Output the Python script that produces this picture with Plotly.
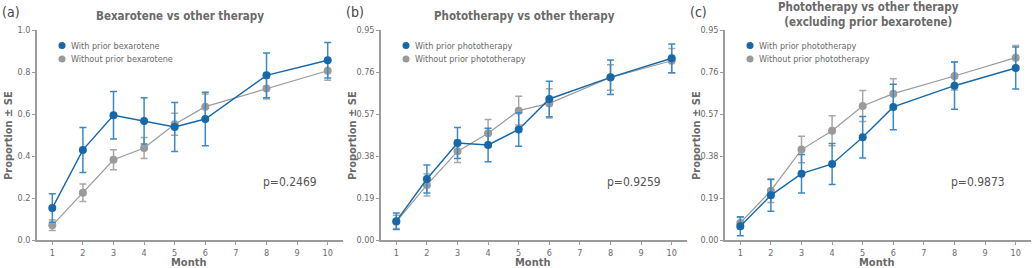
import plotly.graph_objects as go

months = [1, 2, 3, 4, 5, 6, 8, 10]

# Panel (a) Bexarotene vs other therapy
a_with = [0.152, 0.429, 0.594, 0.567, 0.538, 0.576, 0.784, 0.856]
a_with_se = [0.068, 0.107, 0.113, 0.110, 0.117, 0.127, 0.107, 0.085]
a_without = [0.070, 0.225, 0.382, 0.438, 0.551, 0.635, 0.722, 0.806]
a_without_se = [0.025, 0.042, 0.048, 0.050, 0.052, 0.060, 0.050, 0.045]

# Panel (b) Phototherapy vs other therapy
b_with = [0.085, 0.276, 0.439, 0.430, 0.500, 0.638, 0.736, 0.822]
b_with_se = [0.037, 0.063, 0.070, 0.076, 0.076, 0.080, 0.078, 0.065]
b_without = [0.082, 0.249, 0.401, 0.483, 0.585, 0.618, 0.735, 0.811]
b_without_se = [0.030, 0.050, 0.050, 0.062, 0.065, 0.066, 0.058, 0.055]

# Panel (c) Phototherapy vs other therapy (excluding prior bexarotene)
c_with = [0.062, 0.202, 0.300, 0.344, 0.465, 0.602, 0.698, 0.778]
c_with_se = [0.043, 0.072, 0.087, 0.093, 0.094, 0.103, 0.107, 0.095]
c_without = [0.077, 0.223, 0.409, 0.494, 0.606, 0.662, 0.742, 0.825]
c_without_se = [0.025, 0.053, 0.060, 0.068, 0.070, 0.068, 0.063, 0.055]

panel_titles = ["Bexarotene vs other therapy",
                "Phototherapy vs other therapy",
                "Phototherapy vs other therapy<br>(excluding prior bexarotene)"]
panel_labels = ["(a)", "(b)", "(c)"]
p_values = ["p=0.2469", "p=0.9259", "p=0.9873"]
legend_with = ["With prior bexarotene", "With prior phototherapy", "With prior phototherapy"]
legend_without = ["Without prior bexarotene", "Without prior phototherapy", "Without prior phototherapy"]
y_ticks_a = [0.0, 0.2, 0.4, 0.6, 0.8, 1.0]
y_ticks_bc = [0.00, 0.19, 0.38, 0.57, 0.76, 0.95]
x_ticks = [1, 2, 3, 4, 5, 6, 7, 8, 9, 10]
x_title = "Month"
y_title = "Proportion ± SE"

FONT = "Liberation Sans Narrow, DejaVu Sans Condensed, sans-serif"
BLUE = "#1668a8"
BLUE_ERR = "#3b8ac6"
GRAY = "#9a9a9a"
GRAY_ERR = "#a8a8a8"
AXIS = "#9a9a9a"
TXT = "#6a6a6a"

W, H = 1032, 268
x_dom = [[37 / W, 343 / W], [381 / W, 687 / W], [725 / W, 1031 / W]]
y_dom = [1 - 240 / H, 1 - 30 / H]

data = [
    (a_with, a_with_se, a_without, a_without_se, y_ticks_a, ".1f"),
    (b_with, b_with_se, b_without, b_without_se, y_ticks_bc, ".2f"),
    (c_with, c_with_se, c_without, c_without_se, y_ticks_bc, ".2f"),
]

fig = go.Figure()
annotations = []
shapes = []

for i, (yw, sw, yo, so, yt, fmt) in enumerate(data):
    xa = "x" if i == 0 else f"x{i+1}"
    ya = "y" if i == 0 else f"y{i+1}"
    fig.add_trace(go.Scatter(
        x=months, y=yo, mode="lines+markers", xaxis=xa, yaxis=ya,
        line=dict(color=GRAY, width=1.2),
        marker=dict(color=GRAY, size=8),
        error_y=dict(type="data", array=so, color=GRAY_ERR, thickness=1.5, width=3.5),
        showlegend=False))
    fig.add_trace(go.Scatter(
        x=months, y=yw, mode="lines+markers", xaxis=xa, yaxis=ya,
        line=dict(color=BLUE, width=1.4),
        marker=dict(color=BLUE, size=8),
        error_y=dict(type="data", array=sw, color=BLUE_ERR, thickness=1.5, width=3.5),
        showlegend=False))

    ax_key = "xaxis" if i == 0 else f"xaxis{i+1}"
    ay_key = "yaxis" if i == 0 else f"yaxis{i+1}"
    fig.update_layout({
        ax_key: dict(domain=x_dom[i], anchor=ya, range=[0.5, 10.5], automargin=False,
                     tickvals=x_ticks, showline=True, linecolor=AXIS, linewidth=1.5,
                     ticks="outside", ticklen=3, tickcolor=AXIS, tickwidth=1,
                     showgrid=False, zeroline=False,
                     tickfont=dict(family=FONT, size=9, color=TXT)),
        ay_key: dict(domain=y_dom, anchor=xa, range=[0, yt[-1]], automargin=False,
                     tickvals=yt, tickformat=fmt, showline=True, linecolor=AXIS, linewidth=1.5,
                     ticks="outside", ticklen=3, tickcolor=AXIS, tickwidth=1,
                     showgrid=False, zeroline=False,
                     tickfont=dict(family=FONT, size=9, color=TXT)),
    })

    x0 = x_dom[i][0] * W
    cx = (x_dom[i][0] + x_dom[i][1]) / 2 * W
    # axis titles
    annotations.append(dict(text=x_title, xref="paper", yref="paper",
                            x=(cx - 2) / W, y=1 - 262 / H, xanchor="center", yanchor="middle",
                            showarrow=False,
                            font=dict(family=FONT, size=11, color=TXT, weight="bold")))
    annotations.append(dict(text=y_title, xref="paper", yref="paper",
                            x=(x0 - 29) / W, y=1 - 136 / H, xanchor="center", yanchor="middle",
                            textangle=-90, showarrow=False,
                            font=dict(family=FONT, size=11, color=TXT, weight="bold")))
    # panel label
    annotations.append(dict(text=panel_labels[i], xref="paper", yref="paper",
                            x=(x0 - 37) / W, y=1 - 12 / H, xanchor="left", yanchor="middle",
                            showarrow=False, font=dict(family=FONT, size=14, color="#444444")))
    # panel title
    ty = 16 if i < 2 else 14
    annotations.append(dict(text=panel_titles[i], xref="paper", yref="paper",
                            x=(cx - 10) / W, y=1 - ty / H, xanchor="center", yanchor="middle",
                            showarrow=False,
                            font=dict(family=FONT, size=11.5, color=TXT, weight="bold")))
    # p value
    annotations.append(dict(text=p_values[i], xref="paper", yref="paper",
                            x=(x0 + 253) / W, y=1 - 182 / H, xanchor="center", yanchor="middle",
                            showarrow=False, font=dict(family=FONT, size=12, color="#555555")))
    # legend
    for k, (lbl, col) in enumerate([(legend_with[i], BLUE), (legend_without[i], GRAY)]):
        ly = 45.5 + k * 13.5
        lx = x0 + 25
        shapes.append(dict(type="circle", xref="paper", yref="paper",
                           x0=(lx - 3.5) / W, x1=(lx + 3.5) / W,
                           y0=1 - (ly + 3.5) / H, y1=1 - (ly - 3.5) / H,
                           fillcolor=col, line=dict(width=0)))
        annotations.append(dict(text=lbl, xref="paper", yref="paper",
                                x=(lx + 7) / W, y=1 - ly / H, xanchor="left", yanchor="middle",
                                showarrow=False, font=dict(family=FONT, size=9, color=TXT)))

fig.update_layout(width=W, height=H, margin=dict(l=0, r=0, t=0, b=0),
                  paper_bgcolor="white", plot_bgcolor="white",
                  annotations=annotations, shapes=shapes, showlegend=False,
                  font=dict(family=FONT))
fig.write_html("out.html")
